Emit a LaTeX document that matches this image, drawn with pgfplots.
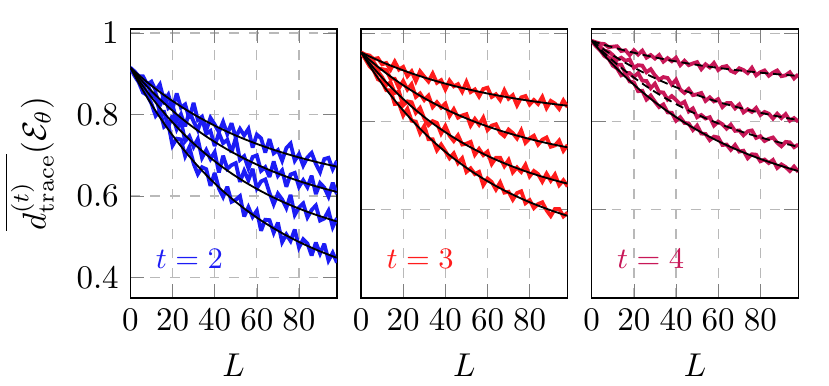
\documentclass[border=0pt]{standalone}
\usepackage{pgfplots}
\pgfplotsset{compat=1.18}
\usepackage{pgfplotstable}
\usepgfplotslibrary{groupplots}
\definecolor{tblue}{RGB}{28,28,245}
\definecolor{tred}{RGB}{255,28,28}
\definecolor{tmag}{RGB}{200,24,88}

% noisy estimates, t = 2
\pgfplotstableread{
L a b c d
0 0.915 0.915 0.915 0.915
2 0.906 0.902 0.901 0.895
4 0.894 0.895 0.884 0.879
6 0.894 0.876 0.874 0.854
8 0.874 0.877 0.849 0.848
10 0.881 0.850 0.846 0.827
12 0.859 0.852 0.843 0.797
14 0.874 0.821 0.807 0.810
16 0.834 0.850 0.807 0.770
18 0.849 0.816 0.770 0.777
20 0.814 0.824 0.798 0.724
22 0.852 0.784 0.764 0.741
24 0.817 0.801 0.784 0.739
26 0.825 0.771 0.735 0.698
28 0.790 0.808 0.747 0.720
30 0.829 0.783 0.721 0.680
32 0.787 0.762 0.740 0.654
34 0.795 0.791 0.694 0.671
36 0.761 0.753 0.713 0.666
38 0.792 0.760 0.691 0.625
40 0.776 0.723 0.708 0.657
42 0.757 0.755 0.658 0.619
44 0.782 0.730 0.699 0.598
46 0.752 0.738 0.667 0.623
48 0.779 0.707 0.676 0.586
50 0.744 0.743 0.681 0.591
52 0.765 0.689 0.635 0.600
54 0.749 0.698 0.662 0.550
56 0.765 0.668 0.639 0.573
58 0.719 0.696 0.667 0.549
60 0.751 0.700 0.619 0.564
62 0.742 0.662 0.636 0.515
64 0.707 0.671 0.641 0.542
66 0.740 0.647 0.608 0.541
68 0.705 0.685 0.580 0.510
70 0.713 0.650 0.606 0.535
72 0.687 0.663 0.592 0.487
74 0.718 0.623 0.571 0.506
76 0.729 0.653 0.603 0.490
78 0.687 0.657 0.554 0.518
80 0.703 0.623 0.572 0.474
82 0.675 0.639 0.582 0.494
84 0.695 0.622 0.548 0.484
86 0.706 0.650 0.566 0.454
88 0.679 0.605 0.577 0.486
90 0.659 0.632 0.540 0.459
92 0.691 0.621 0.545 0.483
94 0.694 0.599 0.564 0.442
96 0.666 0.633 0.524 0.461
98 0.686 0.605 0.546 0.437
}\noiseA

% fitted curves, t = 2
\pgfplotstableread{
L a b c d
0 0.915 0.915 0.915 0.915
6 0.8879 0.8798 0.8699 0.8592
12 0.8631 0.8477 0.8292 0.8089
18 0.8405 0.8187 0.7924 0.7634
24 0.8198 0.7922 0.7592 0.7224
30 0.8008 0.7682 0.7292 0.6853
36 0.7836 0.7464 0.7022 0.6518
42 0.7678 0.7266 0.6777 0.6216
48 0.7533 0.7086 0.6556 0.5943
54 0.7401 0.6923 0.6357 0.5696
60 0.7281 0.6774 0.6177 0.5473
66 0.7171 0.6639 0.6014 0.5272
72 0.7070 0.6517 0.5867 0.5091
78 0.6978 0.6405 0.5735 0.4927
84 0.6894 0.6304 0.5615 0.4779
90 0.6816 0.6212 0.5507 0.4645
96 0.6746 0.6129 0.5409 0.4524
98 0.6724 0.6102 0.5379 0.4487
}\fitA

% noisy estimates, t = 3
\pgfplotstableread{
L a b c d
0 0.957 0.957 0.957 0.957
2 0.952 0.949 0.944 0.942
4 0.950 0.940 0.934 0.926
6 0.942 0.935 0.918 0.916
8 0.944 0.920 0.914 0.896
10 0.930 0.919 0.901 0.891
12 0.933 0.917 0.883 0.871
14 0.918 0.897 0.889 0.871
16 0.936 0.897 0.865 0.840
18 0.918 0.876 0.868 0.841
20 0.924 0.892 0.837 0.814
22 0.903 0.873 0.846 0.829
24 0.914 0.885 0.844 0.802
26 0.892 0.856 0.820 0.800
28 0.914 0.864 0.831 0.774
30 0.902 0.849 0.807 0.790
32 0.891 0.859 0.792 0.760
34 0.909 0.833 0.801 0.760
36 0.888 0.844 0.797 0.735
38 0.894 0.832 0.773 0.748
40 0.873 0.841 0.790 0.733
42 0.893 0.813 0.768 0.717
44 0.880 0.828 0.756 0.728
46 0.885 0.809 0.769 0.706
48 0.868 0.814 0.748 0.717
50 0.890 0.817 0.750 0.686
52 0.867 0.791 0.754 0.694
54 0.873 0.806 0.725 0.681
56 0.857 0.793 0.738 0.686
58 0.874 0.809 0.724 0.656
60 0.877 0.781 0.732 0.671
62 0.856 0.791 0.704 0.663
64 0.862 0.794 0.718 0.646
66 0.849 0.775 0.718 0.662
68 0.871 0.767 0.699 0.639
70 0.852 0.782 0.713 0.641
72 0.860 0.774 0.685 0.623
74 0.837 0.762 0.696 0.638
76 0.855 0.780 0.686 0.642
78 0.858 0.752 0.702 0.615
80 0.839 0.762 0.676 0.622
82 0.849 0.768 0.688 0.604
84 0.840 0.748 0.681 0.613
86 0.856 0.759 0.664 0.617
88 0.831 0.764 0.682 0.599
90 0.847 0.743 0.666 0.586
92 0.841 0.746 0.680 0.602
94 0.829 0.757 0.656 0.602
96 0.848 0.734 0.667 0.585
98 0.833 0.747 0.653 0.594
}\noiseB

% fitted curves, t = 3
\pgfplotstableread{
L a b c d
0 0.957 0.957 0.957 0.957
6 0.9435 0.9321 0.9214 0.9127
12 0.9311 0.9095 0.8893 0.8727
18 0.9199 0.8889 0.8603 0.8365
24 0.9095 0.8703 0.8341 0.8039
30 0.9001 0.8533 0.8104 0.7744
36 0.8915 0.8379 0.7890 0.7478
42 0.8836 0.8239 0.7697 0.7238
48 0.8764 0.8112 0.7523 0.7021
54 0.8698 0.7996 0.7365 0.6825
60 0.8638 0.7891 0.7223 0.6648
66 0.8583 0.7796 0.7095 0.6488
72 0.8533 0.7710 0.6979 0.6344
78 0.8487 0.7631 0.6874 0.6213
84 0.8445 0.7559 0.6780 0.6096
90 0.8407 0.7494 0.6695 0.5989
96 0.8372 0.7435 0.6617 0.5893
98 0.8361 0.7417 0.6594 0.5864
}\fitB

% noisy estimates, t = 4
\pgfplotstableread{
L a b c d
0 0.983 0.983 0.983 0.983
2 0.980 0.976 0.974 0.971
4 0.977 0.970 0.963 0.962
6 0.976 0.961 0.957 0.949
8 0.969 0.959 0.945 0.943
10 0.970 0.951 0.942 0.927
12 0.971 0.940 0.929 0.921
14 0.960 0.945 0.929 0.905
16 0.962 0.938 0.910 0.909
18 0.951 0.941 0.910 0.891
20 0.962 0.922 0.901 0.889
22 0.952 0.928 0.910 0.869
24 0.961 0.927 0.893 0.870
26 0.945 0.912 0.892 0.850
28 0.951 0.919 0.876 0.859
30 0.943 0.905 0.886 0.845
32 0.951 0.895 0.867 0.833
34 0.936 0.901 0.866 0.839
36 0.944 0.899 0.850 0.821
38 0.937 0.884 0.858 0.820
40 0.945 0.895 0.849 0.802
42 0.928 0.873 0.839 0.810
44 0.938 0.865 0.845 0.797
46 0.928 0.874 0.823 0.796
48 0.932 0.860 0.830 0.781
50 0.935 0.862 0.810 0.791
52 0.919 0.865 0.815 0.773
54 0.930 0.847 0.807 0.772
56 0.923 0.855 0.810 0.758
58 0.933 0.846 0.791 0.766
60 0.917 0.851 0.800 0.764
62 0.924 0.833 0.794 0.747
64 0.926 0.842 0.784 0.748
66 0.915 0.842 0.793 0.736
68 0.911 0.830 0.779 0.747
70 0.921 0.839 0.780 0.732
72 0.917 0.821 0.769 0.734
74 0.910 0.828 0.778 0.717
76 0.922 0.822 0.780 0.726
78 0.905 0.831 0.763 0.725
80 0.912 0.815 0.767 0.710
82 0.916 0.822 0.756 0.714
84 0.904 0.818 0.761 0.706
86 0.911 0.807 0.764 0.713
88 0.916 0.818 0.752 0.695
90 0.903 0.808 0.744 0.703
92 0.905 0.817 0.754 0.697
94 0.912 0.802 0.753 0.688
96 0.898 0.808 0.742 0.698
98 0.907 0.800 0.748 0.686
}\noiseC

% fitted curves, t = 4
\pgfplotstableread{
L a b c d
0 0.983 0.983 0.983 0.983
6 0.9741 0.9629 0.9553 0.9500
12 0.9660 0.9446 0.9301 0.9199
18 0.9586 0.9279 0.9072 0.8924
24 0.9519 0.9126 0.8864 0.8672
30 0.9457 0.8986 0.8675 0.8442
36 0.9400 0.8858 0.8503 0.8232
42 0.9349 0.8741 0.8347 0.8040
48 0.9301 0.8634 0.8206 0.7864
54 0.9258 0.8537 0.8077 0.7704
60 0.9219 0.8447 0.7960 0.7557
66 0.9183 0.8366 0.7854 0.7423
72 0.9150 0.8291 0.7757 0.7301
78 0.9120 0.8223 0.7670 0.7189
84 0.9092 0.8161 0.7590 0.7087
90 0.9067 0.8104 0.7518 0.6993
96 0.9044 0.8052 0.7452 0.6907
98 0.9037 0.8036 0.7431 0.6881
}\fitC

\begin{document}
\begin{tikzpicture}
\begin{groupplot}[
    group style={group size=3 by 1, horizontal sep=7.3pt},
    scale only axis,
    width=62.6pt, height=81.5pt,
    xmin=0, xmax=98,
    xtick={0,20,40,60,80},
    xlabel={$L$},
    grid=major,
    major grid style={dashed, gray!55},
    noise/.style={line width=1.15pt, line join=miter, miter limit=3},
    fit/.style={black, line width=0.55pt, smooth},
]
\nextgroupplot[ymin=0.35, ymax=1.01, ytick={0.4,0.6,0.8,1},
    ylabel={$\overline{d^{(t)}_{\mathrm{trace}}}(\mathcal{E}_\theta)$}]
\foreach \c in {a,b,c,d} {
    \addplot[noise, tblue] table[x=L, y=\c] {\noiseA};
}
\foreach \c in {a,b,c,d} {
    \addplot[fit] table[x=L, y=\c] {\fitA};
}
\node[tblue, font=\small] at (axis cs:28,0.445) {$t=2$};

\nextgroupplot[ymin=0.40, ymax=1.01, ytick={0.4,0.6,0.8,1}, yticklabels={}]
\foreach \c in {a,b,c,d} {
    \addplot[noise, tred] table[x=L, y=\c] {\noiseB};
}
\foreach \c in {a,b,c,d} {
    \addplot[fit] table[x=L, y=\c] {\fitB};
}
\node[tred, font=\small] at (axis cs:28,0.488) {$t=3$};

\nextgroupplot[ymin=0.40, ymax=1.01, ytick={0.4,0.6,0.8,1}, yticklabels={}]
\foreach \c in {a,b,c,d} {
    \addplot[noise, tmag] table[x=L, y=\c] {\noiseC};
}
\foreach \c in {a,b,c} {
    \addplot[fit, dash pattern=on 2.5pt off 1.5pt] table[x=L, y=\c] {\fitC};
}
\addplot[fit] table[x=L, y=d] {\fitC};
\node[tmag, font=\small] at (axis cs:28,0.488) {$t=4$};
\end{groupplot}
\pgfresetboundingbox
\useasboundingbox ([shift={(-39.5pt,-26.4pt)}]group c1r1.south west) rectangle ++(251.2pt,116.7pt);
\end{tikzpicture}
\end{document}
